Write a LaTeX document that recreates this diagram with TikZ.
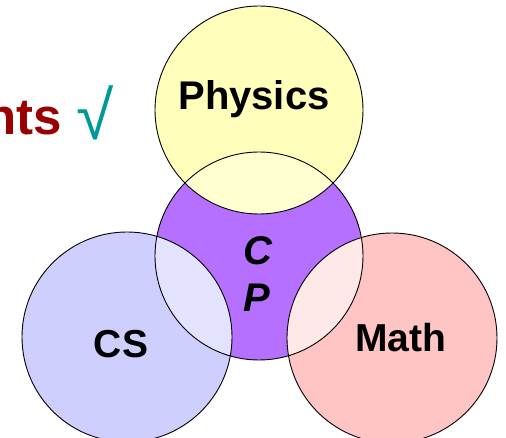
\documentclass[tikz,border=0pt]{standalone}
\usepackage{fontspec}
\setmainfont{Liberation Sans}
\definecolor{physfill}{RGB}{255,255,187}
\definecolor{physcp}{RGB}{255,255,208}
\definecolor{cpfill}{RGB}{181,112,255}
\definecolor{csfill}{RGB}{206,206,255}
\definecolor{cscp}{RGB}{227,227,255}
\definecolor{mathfill}{RGB}{255,196,196}
\definecolor{mathcp}{RGB}{255,232,232}
\definecolor{darkred}{RGB}{153,0,0}
\definecolor{tealc}{RGB}{0,153,153}
\tikzset{
  ring/.style={draw=black, line width=0.9pt},
  lbl/.style={inner sep=0pt, anchor=base, font=\fontsize{40}{48}\selectfont\bfseries},
  ilbl/.style={lbl, font=\fontsize{40}{48}\selectfont\bfseries\itshape}
}
\begin{document}
\begin{tikzpicture}[x=1pt,y=-1pt]
\useasboundingbox (0,0) rectangle (506,438);
\coordinate (ph) at (259,110);
\coordinate (cp) at (259,256);
\coordinate (cs) at (127,337);
\coordinate (ma) at (392,338);
% base fills
\fill[cpfill] (cp) circle[radius=104pt];
\fill[physfill] (ph) circle[radius=104pt];
\fill[csfill] (cs) circle[radius=105pt];
\fill[mathfill] (ma) circle[radius=105pt];
% overlaps
\begin{scope}
  \clip (cp) circle[radius=104pt];
  \fill[physcp] (ph) circle[radius=104pt];
  \fill[cscp] (cs) circle[radius=105pt];
  \fill[mathcp] (ma) circle[radius=105pt];
\end{scope}
% outlines
\draw[ring] (cp) circle[radius=104pt];
\draw[ring] (ph) circle[radius=104pt];
\draw[ring] (cs) circle[radius=105pt];
\draw[ring] (ma) circle[radius=105pt];
% labels
\node[lbl] (tphys) at (254,110) {Physics};
\node[lbl, font=\fontsize{39}{46}\selectfont\bfseries] (tcs) at (121,357) {CS};
\node[lbl, font=\fontsize{39}{46}\selectfont\bfseries] (tmath) at (401,352) {Math};
\node[ilbl] (tc) at (258,265) {C};
\node[ilbl] (tp) at (257,312) {P};
\node[inner sep=0pt, anchor=base east, text=darkred, font=\fontsize{51}{60}\selectfont\bfseries] (tnts) at (62,135) {nts};
\node[inner sep=0pt, anchor=base, text=tealc, font=\fontsize{68}{80}\selectfont] (tcheck) at (95,140) {√};
\end{tikzpicture}
\end{document}
